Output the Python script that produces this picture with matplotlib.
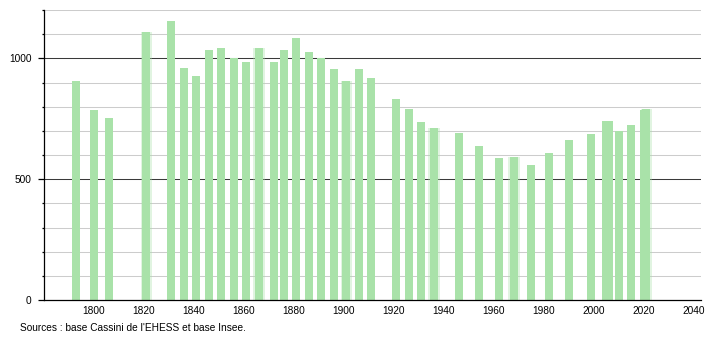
import matplotlib
matplotlib.use("Agg")
import matplotlib.pyplot as plt
import numpy as np

plt.rcParams['font.family'] = ['Liberation Sans', 'DejaVu Sans']

# population by census year
years = [1793, 1800, 1806, 1821, 1831, 1836, 1841, 1846, 1851, 1856,
         1861, 1866, 1872, 1876, 1881, 1886, 1891, 1896, 1901, 1906,
         1911, 1921, 1926, 1931, 1936, 1946, 1954, 1962, 1968, 1975,
         1982, 1990, 1999, 2005, 2006, 2010, 2015, 2020, 2021]
population = [908, 787, 753, 1108, 1153, 962, 925, 1035, 1044, 1003,
              986, 1044, 986, 1035, 1083, 1028, 1000, 957, 908, 954,
              919, 833, 792, 736, 711, 690, 637, 586, 592, 558,
              608, 662, 687, 740, 740, 701, 725, 785, 792]
# bars that look soft-edged in the original
soft_years = [1821, 1866, 1901, 1936, 1968, 2021]
xticks = [1800, 1820, 1840, 1860, 1880, 1900, 1920, 1940, 1960, 1980, 2000, 2020, 2040]
yticks = [0, 500, 1000]

bar_color = '#a9e2a9'

fig = plt.figure(figsize=(7.1, 3.4), dpi=100)
ax = fig.add_axes([44/710, 40/340, (700.7-44)/710, 290/340])

soft_h = [p for y, p in zip(years, population) if y in soft_years]
ax.bar(soft_years, soft_h, width=4.6, color=bar_color, alpha=0.35, linewidth=0, zorder=2)
ax.bar(years, population, width=3.2, color=bar_color, linewidth=0, zorder=2)

ax.set_xlim(1780, 2042.7)
ax.set_ylim(0, 1200)

# grid: light every 100, dark at 500 / 1000
for v in range(100, 1201, 100):
    if v % 500 == 0:
        ax.axhline(v, color='#3a3a3a', lw=0.75, zorder=1)
    else:
        ax.axhline(v, color='#cccccc', lw=0.75, zorder=1)

ax.set_yticks(yticks)
ax.set_yticks(range(0, 1201, 100), minor=True)
ax.tick_params(axis='y', which='major', length=4, width=0.9, pad=5, labelsize=7.3)
ax.tick_params(axis='y', which='minor', length=1.6, width=0.9)
ax.set_xticks(xticks)
ax.tick_params(axis='x', length=0, pad=4, labelsize=7.3)

for s in ['top', 'right']:
    ax.spines[s].set_visible(False)
ax.spines['left'].set_linewidth(0.9)
ax.spines['bottom'].set_linewidth(0.9)

fig.text(20/710, 1 - 328/340, "Sources : base Cassini de l'EHESS et base Insee.",
         fontsize=7.3, va='center', ha='left')

fig.savefig('out.png', dpi=100)
